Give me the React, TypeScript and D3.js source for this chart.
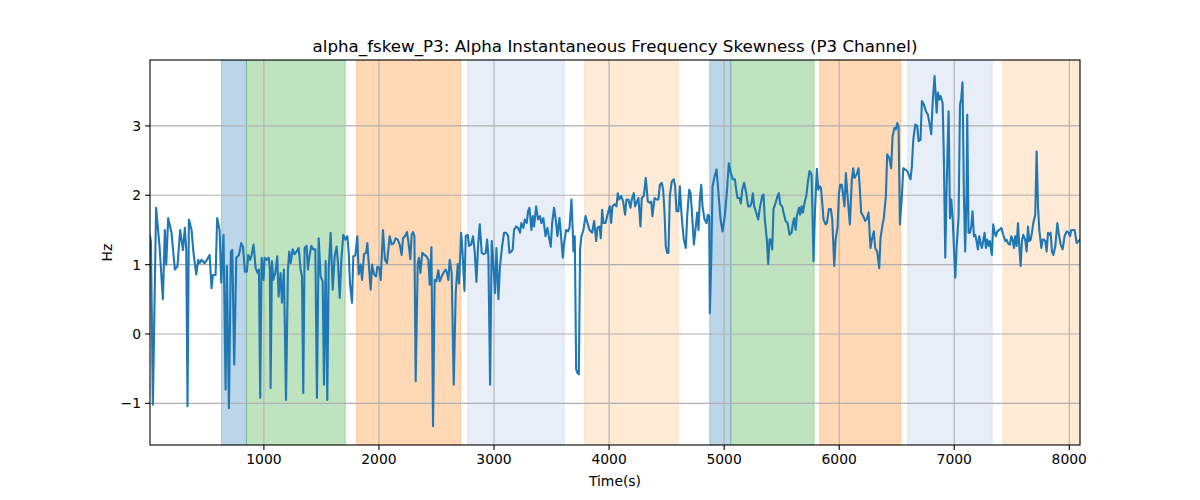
import React from 'react'
import * as d3 from 'd3'

// time (s) and alpha skewness (Hz)
const times = [
  10, 18, 35, 63, 93, 122, 139, 151, 168, 197, 226, 249, 272, 296, 313, 325, 336, 348, 371, 388,
  412, 429, 441, 458, 484, 505, 528, 545, 557, 580, 594, 615, 629, 649, 667, 678, 696, 713, 725, 742,
  760, 783, 803, 818, 835, 852, 864, 881, 893, 910, 928, 945, 957, 968, 980, 997,
  1006, 1023, 1041, 1052, 1058, 1070, 1081, 1099, 1116, 1128, 1145, 1157, 1174, 1192, 1209, 1220, 1232, 1250, 1267, 1284,
  1302, 1319, 1331, 1342, 1354, 1371, 1383, 1394, 1412, 1429, 1447, 1461, 1476, 1493, 1511, 1522, 1537, 1551, 1563, 1580,
  1598, 1615, 1632, 1644, 1659, 1673, 1690, 1708, 1725, 1737, 1748, 1766, 1777, 1795, 1812, 1824, 1841, 1853, 1870, 1888,
  1899, 1911, 1928, 1940, 1957, 1975, 1986, 2004, 2015,
  2035, 2052, 2070, 2093, 2110, 2128, 2145, 2163, 2180, 2197, 2209, 2226, 2244, 2255, 2273, 2284, 2296, 2308, 2319, 2337,
  2348, 2360, 2377, 2395, 2412, 2429, 2441, 2456, 2470, 2484, 2499, 2516, 2528, 2545, 2563, 2580, 2592, 2603, 2615, 2632,
  2650, 2667, 2685, 2696, 2714, 2725, 2743, 2754, 2772, 2783, 2801, 2818, 2833, 2847, 2862, 2876, 2893, 2911, 2928, 2940,
  2951, 2966, 2980, 2992, 3009, 3021, 3038,
  3052, 3070, 3087, 3105, 3122, 3134, 3151, 3163, 3174, 3192, 3209, 3226, 3238, 3255, 3267, 3284, 3296, 3308, 3325, 3337,
  3348, 3366, 3383, 3400, 3412, 3429, 3447, 3464, 3476, 3493, 3505, 3522, 3540, 3551, 3569, 3580, 3598, 3609, 3627, 3644,
  3656, 3673, 3685, 3690, 3702, 3714, 3725, 3737, 3748, 3760, 3777, 3795, 3812, 3830, 3853, 3870, 3888, 3899, 3917, 3928,
  3940, 3951, 3969, 3986,
  4006, 4018, 4029, 4047, 4064, 4076, 4087, 4105, 4122, 4139, 4151, 4168, 4186, 4197, 4215, 4226, 4238, 4255, 4273, 4284,
  4302, 4319, 4337, 4354, 4366, 4377, 4395, 4412, 4429, 4441, 4458, 4470, 4482, 4493, 4505, 4516, 4528, 4545, 4563, 4574,
  4586, 4603, 4615, 4627, 4638, 4650, 4667, 4679, 4696, 4708, 4719, 4737, 4748, 4766, 4777, 4789, 4801, 4812, 4830, 4847,
  4858, 4870, 4876, 4888, 4899, 4917, 4934, 4951, 4969, 4986,
  5006, 5023, 5041, 5058, 5076, 5093, 5105, 5116, 5134, 5145, 5157, 5174, 5192, 5209, 5226, 5238, 5250, 5261, 5279, 5296,
  5313, 5331, 5342, 5354, 5371, 5383, 5395, 5406, 5418, 5429, 5447, 5464, 5476, 5487, 5505, 5516, 5534, 5551, 5569, 5586,
  5598, 5609, 5621, 5632, 5650, 5661, 5673, 5685, 5696, 5714, 5731, 5743, 5760, 5777, 5789, 5806, 5818, 5830, 5841, 5853,
  5864, 5882, 5893, 5911, 5928, 5940, 5957, 5969, 5986, 5998, 6009,
  6023, 6035, 6046, 6058, 6075, 6093, 6110, 6122, 6133, 6151, 6168, 6180, 6191, 6209, 6226, 6243, 6255, 6272, 6284, 6301,
  6313, 6330, 6348, 6359, 6377, 6388, 6406, 6417, 6435, 6452, 6464, 6481, 6493, 6504, 6516, 6528, 6545, 6557, 6574, 6591,
  6603, 6620, 6632, 6644, 6661, 6678, 6690, 6707, 6719, 6736, 6754, 6771, 6789, 6800, 6812, 6829, 6847, 6858, 6870, 6881,
  6899, 6910, 6922, 6934, 6951, 6963, 6974, 6986, 6997, 7009, 7021, 7038, 7050, 7061, 7072, 7084, 7095, 7107, 7113, 7124,
  7136, 7148, 7159, 7171, 7182, 7194, 7206, 7217, 7229, 7240, 7252, 7264, 7275, 7287, 7298, 7310, 7322, 7327, 7339, 7351,
  7362, 7374, 7391, 7409, 7426, 7443, 7455, 7467, 7484, 7496, 7507, 7519, 7530, 7542, 7554, 7565, 7577, 7588, 7600, 7617,
  7629, 7641, 7652, 7664, 7675, 7687, 7704, 7716, 7728, 7739, 7757, 7768, 7780, 7791, 7803, 7815, 7826, 7838, 7849, 7861,
  7878, 7896, 7907, 7925, 7942, 7959, 7977, 7994, 8006, 8017, 8035, 8046, 8064, 8081, 8093,
]

const values = [
  1.41, 1.33, -1.02, 1.82, 1.26, 0.5, 1.5, 1.0, 1.67, 1.46, 0.93, 0.98, 1.5, 1.21, 1.53, 1.21, -1.04, 1.65, 1.5, 1.17,
  0.86, 1.07, 1.02, 1.07, 1.02, 1.07, 1.14, 0.66, 0.85, 0.85, 1.67, 1.5, 0.74, 1.43, -0.8, 0.98, -1.07, 1.19, 1.21, -0.44,
  1.1, 1.14, 1.31, 1.26, 0.9, 0.9, 1.14, 1.07, 1.14, 1.29, 0.95, 0.88, 0.93, -0.92, 1.1, 0.78,
  1.1, 1.07, 1.1, 0.93, -0.78, 1.05, 0.78, 0.88, 1.12, 0.54, 0.88, 0.45, 0.93, -0.95, 0.93, 1.19, 1.02, 1.22, 1.15, 1.19,
  1.24, 0.93, 0.83, -0.85, 1.24, 1.27, 0.93, 1.1, 1.27, 1.22, 1.22, -0.92, 1.38, 0.83, 0.76, -0.73, 1.05, -0.95, 0.93, 1.46,
  0.64, 1.12, 1.26, 1.02, 0.52, 1.07, 1.43, 1.36, 1.41, 1.17, 0.73, 0.45, 1.12, 1.13, 1.41, 0.86, 1.0, 0.78, 1.15, 1.17,
  1.31, 1.02, 0.64, 1.0, 0.86, 0.83, 0.97, 0.95, 0.78,
  1.5, 1.07, 1.02, 1.41, 1.29, 1.31, 1.38, 1.36, 1.29, 1.14, 1.38, 1.41, 1.47, 1.34, 1.08, 1.43, 1.47, 1.41, -0.68, 1.02,
  1.1, 0.88, 1.17, 1.14, 1.12, 1.07, 0.71, 1.25, -1.33, 0.78, 0.76, 0.92, 0.76, 0.83, 0.89, 0.93, 0.88, 0.78, 1.07, 0.88,
  -0.73, 0.59, 1.01, 0.73, 1.46, 1.22, 0.62, 1.41, 1.43, 1.27, 1.29, 1.41, 1.17, 0.75, 1.29, 1.58, 1.17, 1.15, 1.17, 1.36,
  1.12, -0.73, 1.34, 1.07, 0.59, 1.24, 0.5,
  0.98, 1.26, 1.46, 1.46, 1.42, 1.17, 1.19, 1.22, 1.5, 1.55, 1.53, 1.46, 1.6, 1.53, 1.65, 1.6, 1.77, 1.82, 1.5, 1.7,
  1.55, 1.84, 1.65, 1.7, 1.6, 1.67, 1.41, 1.53, 1.41, 1.26, 1.6, 1.82, 1.6, 1.41, 1.67, 1.46, 1.1, 1.31, 1.5, 1.48,
  1.53, 1.94, 1.46, 1.19, 1.41, -0.51, -0.56, -0.58, 1.22, 1.41, 1.5, 1.7, 1.6, 1.5, 1.46, 1.63, 1.34, 1.53, 1.55, 1.38,
  1.79, 1.6, 1.6, 1.72,
  1.84, 1.6, 1.84, 1.87, 1.84, 2.03, 1.94, 1.99, 1.91, 1.72, 1.94, 1.94, 1.82, 1.94, 2.03, 1.84, 1.89, 1.96, 1.55, 1.96,
  1.99, 2.25, 1.91, 1.89, 1.91, 1.7, 1.96, 1.94, 1.94, 2.15, 2.18, 2.08, 1.75, 1.26, 1.17, 1.17, 1.99, 2.2, 2.23, 2.13,
  1.77, 1.77, 2.13, 1.79, 1.55, 1.36, 1.24, 1.7, 2.08, 2.03, 1.79, 1.29, 1.46, 1.75, 1.5, 1.94, 2.15, 1.84, 1.65, 1.6,
  1.72, 1.7, 0.3, 1.07, 2.13, 2.27, 2.37, 2.03, 1.65, 1.48,
  1.7, 2.03, 2.46, 2.32, 2.23, 2.23, 2.08, 1.96, 1.96, 1.88, 2.08, 2.18, 2.03, 1.84, 1.84, 1.89, 2.03, 1.84, 1.75, 1.65,
  1.84, 1.99, 2.01, 1.65, 1.36, 1.01, 1.36, 1.36, 1.22, 1.8, 1.89, 1.99, 2.03, 1.87, 1.84, 1.75, 1.63, 1.6, 1.43, 1.46,
  1.6, 1.67, 1.5, 1.7, 1.82, 1.72, 1.84, 1.75, 1.87, 1.99, 2.23, 2.35, 2.3, 1.05, 1.75, 2.38, 2.08, 2.13, 2.11, 1.89,
  1.65, 1.58, 1.6, 1.8, 1.8, 1.65, 0.98, 1.36, 1.55, 2.03, 2.15,
  2.15, 1.99, 1.84, 2.32, 1.94, 1.58, 2.23, 2.39, 2.25, 2.3, 2.39, 2.08, 1.75, 1.7, 1.63, 1.67, 1.75, 1.24, 1.36, 1.48,
  1.24, 1.19, 0.95, 1.38, 1.58, 1.67, 1.99, 2.59, 2.54, 2.39, 2.85, 2.97, 2.95, 3.04, 2.99, 1.58, 1.99, 2.39, 2.37, 2.35,
  2.3, 2.23, 2.42, 2.8, 3.02, 3.0, 2.78, 2.8, 3.36, 3.31, 3.21, 3.16, 3.0, 2.88, 3.33, 3.72, 3.19, 3.48, 3.38, 3.43,
  3.33, 2.52, 1.1, 2.13, 3.21, 1.67, 1.94, 1.67, 1.26, 0.81, 1.26, 1.7, 3.3, 3.4, 3.63, 2.0, 1.19, 2.0, 3.16, 1.46,
  1.46, 1.55, 1.77, 1.41, 1.43, 1.34, 1.22, 1.41, 1.31, 1.24, 1.34, 1.46, 1.24, 1.36, 1.27, 1.34, 1.19, 1.14, 1.58, 1.46,
  1.41, 1.48, 1.5, 1.53, 1.43, 1.34, 1.36, 1.31, 1.29, 1.41, 1.36, 1.24, 1.41, 1.27, 1.6, 1.27, 0.98, 1.34, 1.43, 1.36,
  1.19, 1.55, 1.34, 1.36, 1.46, 1.6, 1.72, 2.63, 1.84, 1.5, 1.24, 1.36, 1.36, 1.34, 1.19, 1.46, 1.43, 1.46, 1.19, 1.14,
  1.26, 1.6, 1.46, 1.29, 1.22, 1.41, 1.48, 1.46, 1.41, 1.5, 1.5, 1.5, 1.31, 1.34, 1.36,
]

// shaded segments
const spanStarts = [632, 848, 1806, 2771, 3788, 4875, 5058, 5831, 6595, 7422]
const spanEnds = [848, 1707, 2710, 3612, 4603, 5058, 5782, 6533, 7331, 8093]
const spanColors = ['#1f77b4', '#2ca02c', '#ff7f0e', '#aec7e8', '#ffbb78', '#1f77b4', '#2ca02c', '#ff7f0e', '#aec7e8', '#ffbb78']

const xTicks = [1000, 2000, 3000, 4000, 5000, 6000, 7000, 8000]
const yTicks = [-1, 0, 1, 2, 3]

const W = 1200
const H = 500
const margin = { left: 150, right: 120, top: 60, bottom: 55 }
const font = '"DejaVu Sans", sans-serif'

const App: React.FC = () => {
  const x = d3
    .scaleLinear()
    .domain(d3.extent(times) as [number, number])
    .range([margin.left, W - margin.right])
  const y = d3
    .scaleLinear()
    .domain([-1.6, 3.95])
    .range([H - margin.bottom, margin.top])

  const pts = times.map((t, i) => [t, values[i]] as [number, number])
  const line = d3
    .line<[number, number]>()
    .x((d) => x(d[0]))
    .y((d) => y(d[1]))

  const top = margin.top
  const bottom = H - margin.bottom
  const left = margin.left
  const right = W - margin.right

  return (
    <div style={{ position: 'absolute', left: 0, top: 0 }}>
      <svg width={W} height={H} style={{ display: 'block', background: '#fff' }} fontFamily={font}>
        <defs>
          <clipPath id="plot">
            <rect x={left} y={top} width={right - left} height={bottom - top} />
          </clipPath>
        </defs>

        {/* shaded spans */}
        <g clipPath="url(#plot)">
          {spanStarts.map((s, i) => (
            <rect
              key={i}
              x={x(s)}
              y={top}
              width={x(spanEnds[i]) - x(s)}
              height={bottom - top}
              fill={spanColors[i]}
              fillOpacity={0.3}
              stroke={spanColors[i]}
              strokeOpacity={0.3}
              strokeWidth={1}
            />
          ))}
        </g>

        {/* grid */}
        <g stroke="#b0b0b0" strokeWidth={1.1}>
          {xTicks.map((t) => (
            <line key={t} x1={x(t)} x2={x(t)} y1={top} y2={bottom} />
          ))}
          {yTicks.map((t) => (
            <line key={t} x1={left} x2={right} y1={y(t)} y2={y(t)} />
          ))}
        </g>

        {/* series */}
        <path
          d={line(pts) || ''}
          fill="none"
          stroke="#1f77b4"
          strokeWidth={2.1}
          strokeLinejoin="round"
          strokeLinecap="square"
          clipPath="url(#plot)"
        />

        {/* frame */}
        <rect x={left} y={top} width={right - left} height={bottom - top} fill="none" stroke="#000" strokeWidth={1.1} />

        {/* x ticks */}
        {xTicks.map((t) => (
          <g key={t}>
            <line x1={x(t)} x2={x(t)} y1={bottom} y2={bottom + 4.9} stroke="#000" strokeWidth={1.1} />
            <text x={x(t)} y={bottom + 19} textAnchor="middle" fontSize={13.9} fill="#000">
              {t}
            </text>
          </g>
        ))}

        {/* y ticks */}
        {yTicks.map((t) => (
          <g key={t}>
            <line x1={left - 4.9} x2={left} y1={y(t)} y2={y(t)} stroke="#000" strokeWidth={1.1} />
            <text x={left - 9} y={y(t)} dy="0.35em" textAnchor="end" fontSize={13.9} fill="#000">
              {t < 0 ? '\u2212' + Math.abs(t) : t}
            </text>
          </g>
        ))}

        {/* labels */}
        <text x={(left + right) / 2} y={486} textAnchor="middle" fontSize={13.9} fill="#000">
          Time(s)
        </text>
        <text
          transform={`translate(112, ${(top + bottom) / 2}) rotate(-90)`}
          textAnchor="middle"
          fontSize={13.9}
          fill="#000"
        >
          Hz
        </text>
        <text x={(left + right) / 2} y={top - 8} textAnchor="middle" fontSize={16.7} fill="#000">
          alpha_fskew_P3: Alpha Instantaneous Frequency Skewness (P3 Channel)
        </text>
      </svg>
    </div>
  )
}

export default App
